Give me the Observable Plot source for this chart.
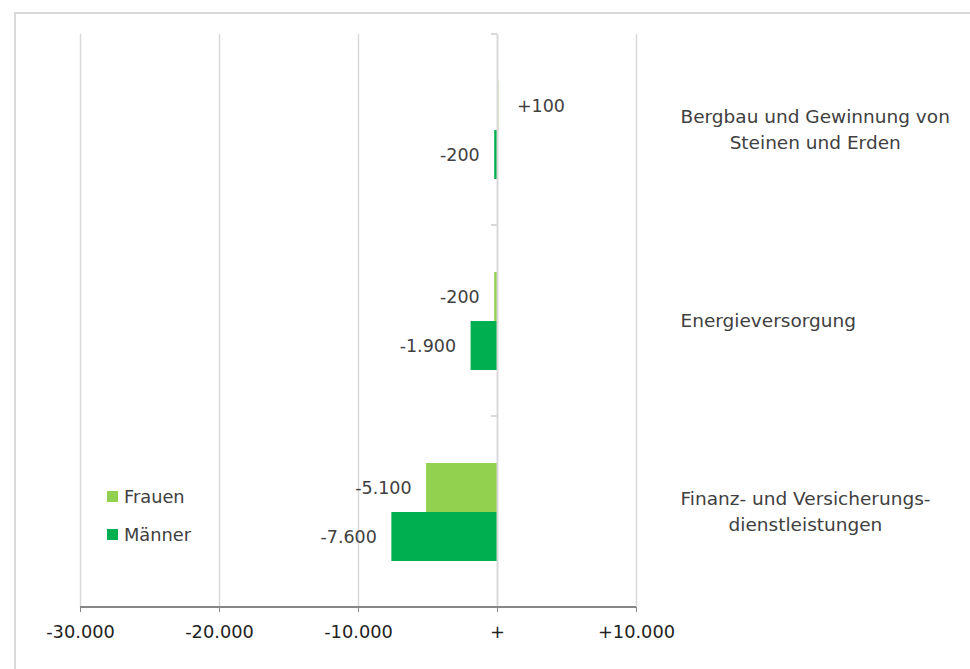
<!DOCTYPE html>
<html>
<head>
<meta charset="utf-8">
<script src="https://cdn.jsdelivr.net/npm/d3@7"></script>
<script src="https://cdn.jsdelivr.net/npm/@observablehq/plot@0.6"></script>
<style>
  html, body { margin: 0; padding: 0; background: #fff; }
  #wrap { position: relative; width: 970px; height: 669px; overflow: hidden; font-family: "DejaVu Sans", sans-serif; }
  #border { position: absolute; left: 14px; top: 12px; width: 1000px; height: 700px; border-left: 2px solid #d9d9d9; border-top: 2px solid #d9d9d9; }
  #chart { position: absolute; left: 0; top: 0; }
  .legend { position: absolute; left: 107px; font-size: 17.8px; color: #404040; display: flex; align-items: center; }
  .legend span.sw { display: inline-block; width: 11px; height: 11px; margin-right: 6px; }
</style>
</head>
<body>
<div id="wrap">
  <div id="border"></div>
  <div id="chart"></div>
</div>
<script>
const categories = ["Bergbau und Gewinnung von\nSteinen und Erden", "Energieversorgung", "Finanz- und Versicherungs-\ndienstleistungen"];
const series = ["Frauen", "Männer"];
const frauen = [100, -200, -5100];
const maenner = [-200, -1900, -7600];
const xTicks = [-30000, -20000, -10000, 0, 10000];
const colors = ["#92D050", "#00B050"];

const data = [];
categories.forEach((c, i) => {
  data.push({category: c, sex: series[0], value: frauen[i]});
  data.push({category: c, sex: series[1], value: maenner[i]});
});

const de = d3.formatLocale({decimal: ",", thousands: ".", grouping: [3], currency: ["", " €"], minus: "-"});
const f = de.format("+,");
const fmt = v => v === 0 ? "+" : f(v);
const FS = 17.5;

const plot = Plot.plot({
  width: 970,
  height: 669,
  marginLeft: 80,
  marginRight: 334,
  marginTop: 33,
  marginBottom: 62,
  style: {fontFamily: "'DejaVu Sans', sans-serif", fontSize: FS + "px", background: "transparent", overflow: "visible"},
  x: {domain: [-30000, 10000], axis: null, label: null},
  y: {domain: series, paddingInner: 0, paddingOuter: 0.91, axis: null},
  fy: {domain: categories, padding: 0, axis: null},
  color: {domain: series, range: colors},
  marks: [
    Plot.gridX(xTicks.filter(d => d !== 0), {stroke: "#d9d9d9", strokeOpacity: 1, strokeWidth: 1.5}),
    Plot.barX(data, {x: "value", y: "sex", fy: "category", fill: "sex"}),
    Plot.ruleX([0], {stroke: "#d9d9d9", strokeWidth: 2}),
    Plot.text(data.filter(d => d.value > 0), {x: "value", y: "sex", fy: "category", text: d => fmt(d.value), textAnchor: "start", dx: 18, fill: "#404040", fontSize: FS}),
    Plot.text(data.filter(d => d.value < 0), {x: "value", y: "sex", fy: "category", text: d => fmt(d.value), textAnchor: "end", dx: -15, fill: "#404040", fontSize: FS}),
    Plot.text(categories, {fy: d => d, text: d => d, frameAnchor: "right", dx: 44, dy: -2.5, textAnchor: "start", lineHeight: 1.42, fill: "#404040", fontSize: 18.5, className: "catlabel"}),
    Plot.axisX(xTicks, {tickSize: 5, tickPadding: 13, tickFormat: fmt, label: null, stroke: "#868686", fill: "#222", fontSize: 17.8})
  ]
});

document.getElementById("chart").appendChild(plot);

// center lines of multi-line category labels within their block (Excel style)
d3.select(plot).selectAll("g.catlabel text").each(function() {
  const tspans = d3.select(this).selectAll("tspan");
  if (tspans.empty()) return;
  let w = 0;
  tspans.each(function() { w = Math.max(w, this.getComputedTextLength()); });
  d3.select(this).attr("text-anchor", "middle");
  tspans.attr("x", w / 2);
});

// axis baseline and category separator ticks on the zero line
const xs = plot.scale("x");
const fys = plot.scale("fy");
const svg = d3.select(plot);
const yBottom = 669 - 62;
svg.append("line")
  .attr("x1", xs.apply(-30000)).attr("x2", xs.apply(10000))
  .attr("y1", yBottom).attr("y2", yBottom)
  .attr("stroke", "#868686").attr("stroke-width", 2);
categories.forEach(c => {
  const yy = fys.apply(c);
  svg.append("line")
    .attr("x1", xs.apply(0) - 6).attr("x2", xs.apply(0))
    .attr("y1", yy).attr("y2", yy)
    .attr("stroke", "#d9d9d9").attr("stroke-width", 2);
});

// legend
const wrap = document.getElementById("wrap");
series.forEach((s, i) => {
  const el = document.createElement("div");
  el.className = "legend";
  el.style.top = (486 + i * 38) + "px";
  el.innerHTML = `<span class="sw" style="background:${colors[i]}"></span>${s}`;
  wrap.appendChild(el);
});
</script>
</body>
</html>
